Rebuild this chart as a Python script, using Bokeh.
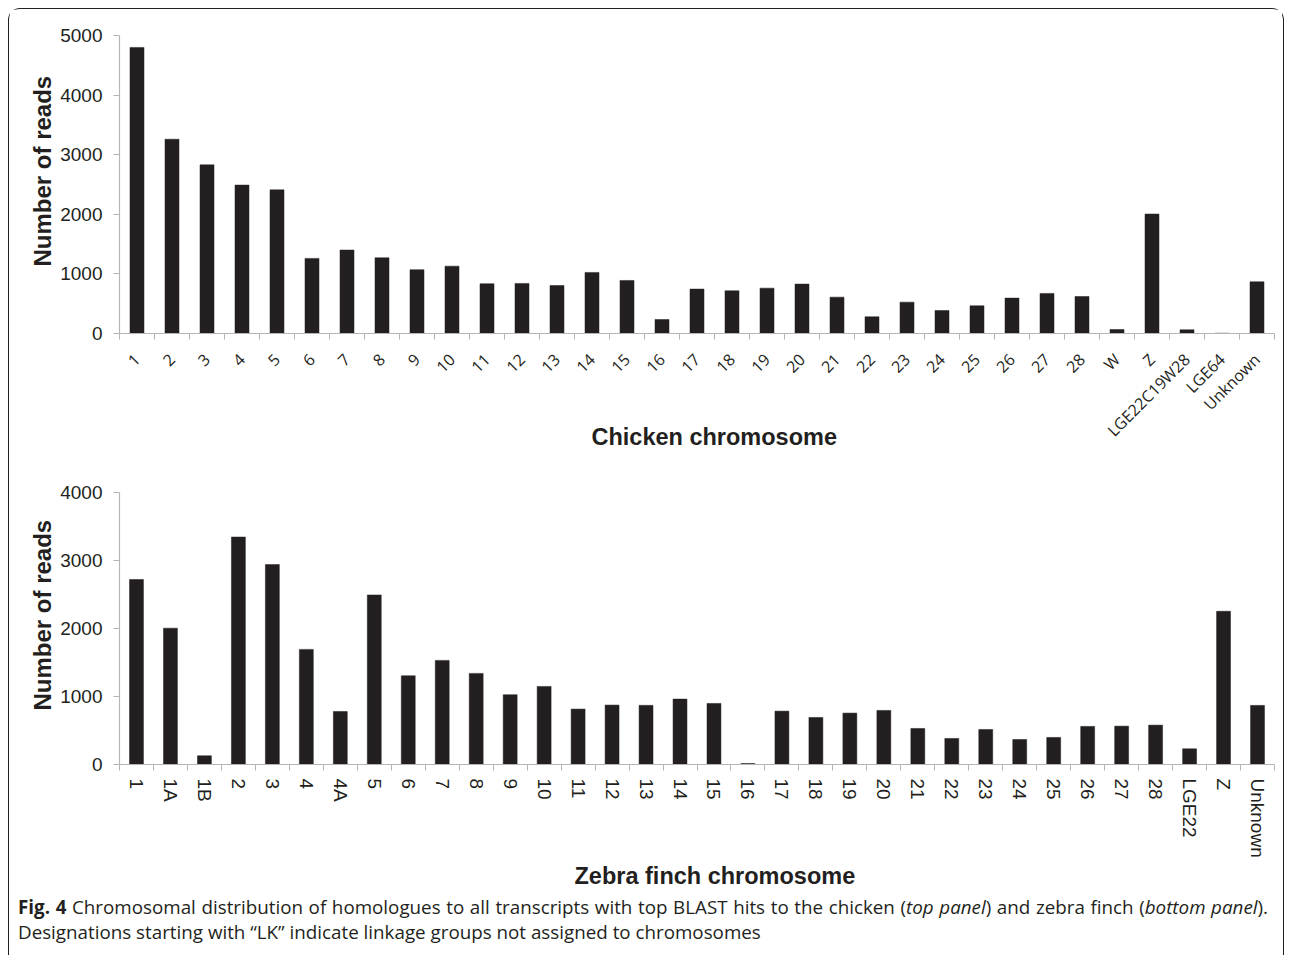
from math import pi
from bokeh.plotting import figure
from bokeh.models import Range1d, FixedTicker, Title, Div
from bokeh.layouts import column
from bokeh.embed import file_html
from bokeh.resources import INLINE

# ---------------- data ----------------
chicken_labels = [str(i) for i in range(1, 29)] + ["W", "Z", "LGE22C19W28", "LGE64", "Unknown"]
chicken_reads = [4800, 3260, 2830, 2490, 2410, 1260, 1400, 1270, 1070, 1130, 835, 840, 805,
                 1025, 890, 235, 745, 717, 761, 829, 610, 280, 526, 386, 465, 594, 672, 621,
                 67, 2004, 62, 5, 868]

finch_labels = ["1", "1A", "1B", "2", "3", "4", "4A", "5"] + [str(i) for i in range(6, 29)] + \
               ["LGE22", "Z", "Unknown"]
finch_reads = [2720, 2005, 128, 3345, 2940, 1693, 780, 2493, 1305, 1531, 1340, 1026, 1148,
               815, 874, 870, 962, 898, 15, 785, 692, 756, 795, 530, 383, 515, 368, 398,
               560, 564, 579, 231, 2253, 869]

chicken_yticks = [0, 1000, 2000, 3000, 4000, 5000]
finch_yticks = [0, 1000, 2000, 3000, 4000]

INK = "#231f20"
AXIS = "#b5b5b5"
W = 1273


def panel(labels, values, yticks, height, top, frame_h, bar_w, xlabel,
          lab_font, lab_size, lab_orient, lab_standoff, xt_offset, xt_standoff, xt_valign,
          yt_offset):
    n = len(labels)
    ymax = yticks[-1]
    p = figure(width=W, height=height, output_backend="svg", toolbar_location=None,
               x_range=Range1d(-0.5, n - 0.5), y_range=Range1d(0, ymax),
               min_border_left=110, min_border_right=W - 110 - 1155,
               min_border_top=top, min_border_bottom=height - top - frame_h)
    p.outline_line_color = None
    p.grid.visible = False
    p.background_fill_color = "white"
    p.border_fill_color = "white"
    idx = list(range(n))
    p.vbar(x=idx, top=values, width=bar_w, bottom=0, fill_color=INK, line_color=INK, line_width=0.5)

    xa = p.xaxis[0]
    xa.ticker = FixedTicker(ticks=idx, minor_ticks=[i - 0.5 for i in range(n + 1)])
    xa.major_label_overrides = {i: lab for i, lab in enumerate(labels)}
    xa.major_tick_out = 0
    xa.major_tick_in = 0
    xa.minor_tick_out = 6
    xa.minor_tick_in = 0
    xa.minor_tick_line_color = AXIS
    xa.axis_line_color = AXIS
    xa.axis_line_width = 1.2
    xa.major_label_orientation = lab_orient
    xa.major_label_text_font = lab_font
    xa.major_label_text_font_size = lab_size
    xa.major_label_text_color = INK
    xa.major_label_standoff = lab_standoff

    ya = p.yaxis[0]
    ya.ticker = FixedTicker(ticks=yticks)
    ya.minor_tick_line_color = None
    ya.major_tick_out = 6
    ya.major_tick_in = 0
    ya.major_tick_line_color = AXIS
    ya.axis_line_color = AXIS
    ya.axis_line_width = 1.2
    ya.major_label_text_font = "Liberation Sans"
    ya.major_label_text_font_size = "19px"
    ya.major_label_text_color = INK
    ya.major_label_standoff = 11

    ytitle = Title(text="Number of reads", align="left", offset=yt_offset, standoff=4,
                   text_font="Liberation Sans", text_font_size="24px",
                   text_font_style="bold", text_color=INK)
    p.add_layout(ytitle, "left")
    xtitle = Title(text=xlabel, align="left", vertical_align=xt_valign, offset=xt_offset,
                   standoff=xt_standoff, text_font="Liberation Sans", text_font_size="23.5px",
                   text_font_style="bold", text_color=INK)
    p.add_layout(xtitle, "below")
    return p


top = panel(chicken_labels, chicken_reads, chicken_yticks, height=451, top=26, frame_h=298,
            bar_w=0.4, xlabel="Chicken chromosome", lab_font="Open Sans", lab_size="16px",
            lab_orient=pi / 4, lab_standoff=17, xt_offset=472, xt_standoff=-56,
            xt_valign="top", yt_offset=67)

bottom = panel(finch_labels, finch_reads, finch_yticks, height=433, top=32, frame_h=272,
               bar_w=0.41, xlabel="Zebra finch chromosome", lab_font="Liberation Sans",
               lab_size="19px", lab_orient="vertical", lab_standoff=8, xt_offset=455,
               xt_standoff=0, xt_valign="bottom", yt_offset=54)

caption = Div(
    text=('<div style="width: 1250px; margin-top: -3px; text-align: justify; '
          'text-align-last: justify;">'
          '<b>Fig. 4</b> Chromosomal distribution of homologues to all transcripts with top BLAST '
          'hits to the chicken (<i>top panel</i>) and zebra finch (<i>bottom panel</i>).</div>'
          '<div>Designations starting with \u201cLK\u201d indicate linkage groups not assigned '
          'to chromosomes</div>'),
    width=W, height=52,
    styles={"font-family": "Open Sans", "font-size": "18.8px", "color": INK,
            "line-height": "25px", "padding-left": "4px", "box-sizing": "border-box",
            "white-space": "nowrap"})

layout = column(top, bottom, caption, width=1276,
                styles={"margin": "8px 0 0 8px",
                        "border-top": "1.5px solid #231f20", "border-left": "1.5px solid #231f20",
                        "border-right": "1.5px solid #231f20", "border-radius": "12px 12px 0 0",
                        "background-color": "white"})

open("out.html", "w").write(file_html(layout, INLINE))
